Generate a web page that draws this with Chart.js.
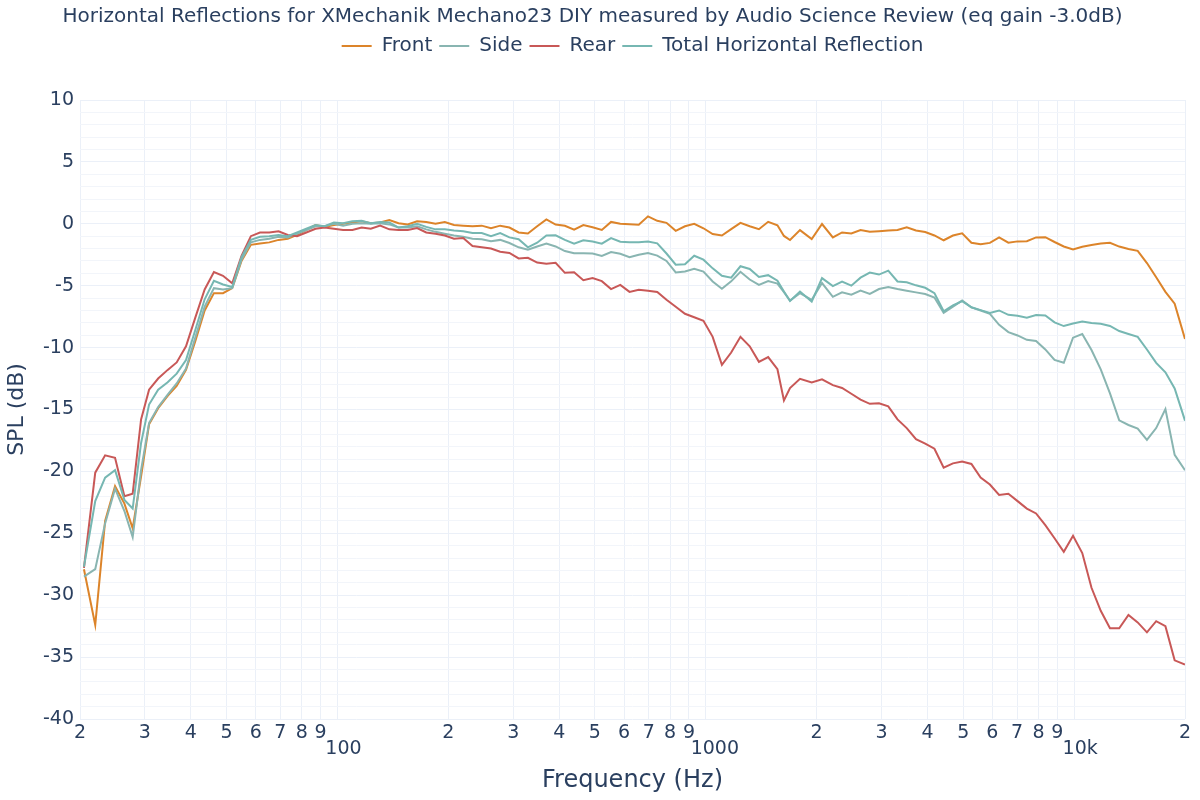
<!DOCTYPE html>
<html>
<head>
<meta charset="utf-8">
<title>Horizontal Reflections</title>
<script src="https://cdn.jsdelivr.net/npm/chart.js@4.4.1/dist/chart.umd.min.js"></script>
<style>
  html, body { margin: 0; padding: 0; background: #fff; }
  #grab { display: block; }
</style>
</head>
<body>
<canvas id="grab" width="1200" height="800"></canvas>
<script>
// frequency points (Hz)
const freqHz = [
  20.5, 22.0, 23.4, 24.9, 26.4, 27.8, 29.3,
  30.8, 32.6, 34.6, 36.6, 38.8, 41.1, 43.6, 46.2, 48.9, 51.8, 54.9, 58.2, 61.6, 65.3, 69.2, 73.3, 77.7, 82.3, 87.2, 92.3, 97.8,
  103.6, 109.8, 116.3, 123.2, 130.6, 138.3, 146.5, 155.2, 164.5, 174.2, 184.6, 195.6, 207.2, 219.5, 232.6, 246.4, 261.1, 276.6, 293.0, 310.4,
  328.9, 348.5, 369.2, 391.1, 414.4, 439.0, 465.1, 492.8, 522.1, 553.1, 586.0, 620.8, 657.7, 696.8, 738.3, 782.2, 828.7, 878.0, 930.2, 985.5,
  1044, 1106, 1172, 1242, 1316, 1394, 1477, 1565, 1630, 1693, 1802, 1939, 2068, 2213, 2344, 2484, 2631, 2788, 2953, 3129,
  3315, 3512, 3721, 3942, 4176, 4424, 4688, 4966, 5262, 5574, 5906, 6257, 6629, 7023, 7441, 7883, 8352, 8848, 9374, 9932,
  10522, 11148, 11811, 12513, 13257, 14045, 14880, 15765, 16703, 17696, 18748, 20000
];

// SPL (dB)
const front = [
  -27.9, -32.4, -24.0, -21.2, -22.6, -24.6, -20.4,
  -16.2, -14.9, -13.9, -13.1, -11.8, -9.5,
  -7.0, -5.6, -5.6, -5.2, -3.0, -1.7, -1.6, -1.5, -1.3, -1.2, -0.9, -0.5, -0.1, -0.25, -0.1,
  0.0, 0.1, 0.2, 0.05, 0.1, 0.3, 0.05, -0.05, 0.2, 0.15, 0.0, 0.15, -0.1, -0.15, -0.2, -0.15, -0.35, -0.15, -0.3, -0.7,
  -0.78, -0.2, 0.36, -0.06, -0.16, -0.48, -0.1, -0.28, -0.5, 0.15, 0.0, -0.04, -0.08, 0.6, 0.24, 0.08, -0.57, -0.2, 0.0, -0.36,
  -0.83, -0.95, -0.43, 0.08, -0.2, -0.44, 0.16, -0.12, -0.98, -1.31, -0.51, -1.24, -0.02, -1.1, -0.7, -0.78, -0.5, -0.65, -0.6, -0.55,
  -0.5, -0.28, -0.54, -0.67, -0.94, -1.33, -0.95, -0.77, -1.53, -1.66, -1.54, -1.1, -1.53, -1.42, -1.4, -1.1, -1.08, -1.47, -1.83, -2.08,
  -1.86, -1.71, -1.6, -1.54, -1.84, -2.04, -2.18, -3.17, -4.32, -5.5, -6.45, -9.3
];

const side = [
  -28.5, -27.9, -24.2, -21.4, -23.2, -25.3, -19.9,
  -16.1, -14.8, -13.8, -12.9, -11.7, -9.2,
  -6.7, -5.2, -5.3, -5.2, -2.9, -1.5, -1.3, -1.2, -1.05, -1.1, -0.8, -0.5, -0.2, -0.2, 0.0,
  -0.15, 0.0, 0.05, 0.0, 0.05, -0.05, -0.3, -0.3, -0.2, -0.45, -0.65, -0.8, -0.95, -1.05, -1.2, -1.25, -1.4, -1.3, -1.55, -1.9,
  -2.1, -1.83, -1.6, -1.83, -2.2, -2.37, -2.37, -2.4, -2.6, -2.28, -2.42, -2.7, -2.5, -2.36, -2.57, -3.0, -3.93, -3.85, -3.63, -3.86,
  -4.66, -5.25, -4.65, -3.88, -4.5, -4.93, -4.63, -4.83, -5.52, -6.2, -5.6, -6.14, -4.79, -5.9, -5.54, -5.72, -5.39, -5.66, -5.27, -5.1,
  -5.27, -5.4, -5.54, -5.67, -5.95, -7.2, -6.69, -6.2, -6.75, -7.0, -7.27, -8.16, -8.75, -9.02, -9.37, -9.47, -10.15, -11.0, -11.23, -9.2,
  -8.9, -10.2, -11.76, -13.7, -15.87, -16.25, -16.54, -17.45, -16.5, -14.96, -18.67, -19.9
];

const rear = [
  -27.8, -20.1, -18.7, -18.9, -22.0, -21.8, -15.8,
  -13.4, -12.5, -11.8, -11.2, -9.9, -7.6,
  -5.3, -3.9, -4.2, -4.8, -2.6, -1.0, -0.7, -0.7, -0.6, -0.9, -1.0, -0.7, -0.4, -0.3, -0.4,
  -0.5, -0.5, -0.3, -0.4, -0.15, -0.45, -0.5, -0.5, -0.35, -0.7, -0.8, -0.95, -1.2, -1.15, -1.8, -1.9, -2.0, -2.25, -2.35, -2.8,
  -2.75, -3.13, -3.23, -3.15, -3.96, -3.92, -4.56, -4.39, -4.63, -5.27, -4.93, -5.5, -5.33, -5.4, -5.5, -6.14, -6.7, -7.27, -7.55, -7.84,
  -9.13, -11.4, -10.4, -9.13, -9.9, -11.15, -10.77, -11.75, -14.27, -13.27, -12.52, -12.82, -12.56, -13.03, -13.26, -13.73, -14.2, -14.54, -14.5, -14.75,
  -15.8, -16.5, -17.4, -17.75, -18.17, -19.7, -19.35, -19.2, -19.4, -20.5, -21.06, -21.9, -21.8, -22.4, -23.0, -23.4, -24.34, -25.4, -26.5, -25.2,
  -26.6, -29.4, -31.26, -32.67, -32.67, -31.6, -32.2, -33.0, -32.1, -32.5, -35.26, -35.6
];

const totalHR = [
  -27.7, -22.4, -20.5, -19.9, -22.3, -23.0, -17.7,
  -14.6, -13.4, -12.8, -12.1, -11.0, -8.6,
  -6.1, -4.6, -4.9, -5.1, -2.7, -1.3, -1.05, -1.0, -0.9, -1.0, -0.7, -0.4, -0.1, -0.2, 0.1,
  0.05, 0.2, 0.25, 0.05, 0.15, 0.1, -0.3, -0.2, 0.0, -0.25, -0.45, -0.45, -0.55, -0.6, -0.75, -0.75, -1.0, -0.75, -1.1, -1.25,
  -1.9, -1.53, -0.95, -0.93, -1.3, -1.6, -1.33, -1.43, -1.6, -1.15, -1.45, -1.5, -1.5, -1.44, -1.58, -2.4, -3.3, -3.27, -2.58, -2.9,
  -3.6, -4.2, -4.35, -3.43, -3.65, -4.3, -4.15, -4.6, -5.47, -6.23, -5.47, -6.28, -4.39, -5.03, -4.67, -5.0, -4.35, -3.94, -4.1, -3.78,
  -4.66, -4.72, -4.97, -5.17, -5.6, -7.07, -6.58, -6.24, -6.74, -6.97, -7.2, -7.0, -7.35, -7.43, -7.58, -7.36, -7.41, -7.96, -8.26, -8.05,
  -7.89, -8.02, -8.08, -8.25, -8.66, -8.9, -9.13, -10.15, -11.23, -12.0, -13.3, -15.9
];

const seriesNames = ["Front", "Side", "Rear", "Total Horizontal Reflection"];
const seriesColors = ["#dc842a", "#89b5b1", "#c85857", "#76b7b2"];

// x axis ticks (plotly style: 2..9 then decade on a second row)
const xTickVals = [20, 30, 40, 50, 60, 70, 80, 90, 100, 200, 300, 400, 500, 600, 700, 800, 900,
  1000, 2000, 3000, 4000, 5000, 6000, 7000, 8000, 9000, 10000, 20000];
const xTickText = ["2", "3", "4", "5", "6", "7", "8", "9", ["", "  100"], "2", "3", "4", "5", "6", "7", "8", "9",
  ["", "   1000"], "2", "3", "4", "5", "6", "7", "8", "9", ["", "  10k"], "2"];

const inkColor = "#2a3f5f";
Chart.defaults.font.family = "'DejaVu Sans', Verdana, sans-serif";
Chart.defaults.color = inkColor;

const pts = (vals) => vals.map((v, i) => ({ x: freqHz[i], y: v }));

// extra room between the legend and the plot
const legendGap = {
  id: "legendGap",
  beforeLayout(chart) {
    const lg = chart.legend;
    if (lg && !lg._gapDone) {
      const fit = lg.fit;
      lg.fit = function () {
        fit.call(this);
        this.height += 34;
      };
      lg._gapDone = true;
    }
  }
};

const allSeries = [front, side, rear, totalHR];

const grph = document.querySelector("#grab");
const man = new Chart(grph, {
  type: "line",
  data: {
    datasets: allSeries.map((s, i) => ({
      label: seriesNames[i],
      data: pts(s),
      borderColor: seriesColors[i],
      backgroundColor: seriesColors[i],
      borderWidth: 2,
      pointRadius: 0,
      tension: 0,
      fill: false,
      order: allSeries.length - i
    }))
  },
  options: {
    responsive: false,
    animation: false,
    devicePixelRatio: 1,
    layout: { padding: { top: 0, right: 15, bottom: 0, left: 0 } },
    plugins: {
      title: {
        display: true,
        text: "Horizontal Reflections for XMechanik Mechano23 DIY measured by Audio Science Review (eq gain -3.0dB)",
        color: inkColor,
        font: { size: 20, weight: "normal" },
        padding: { top: 5, bottom: 0 }
      },
      legend: {
        display: true,
        fullSize: false,
        labels: {
          usePointStyle: true,
          pointStyle: "line",
          pointStyleWidth: 30,
          color: inkColor,
          font: { size: 20 },
          padding: 7,
          sort: (a, b) => a.datasetIndex - b.datasetIndex
        }
      },
      tooltip: { enabled: false }
    },
    scales: {
      x: {
        type: "logarithmic",
        min: 20,
        max: 20000,
        afterBuildTicks: (axis) => {
          axis.ticks = xTickVals.map((v) => ({ value: v }));
        },
        afterFit: (s) => { s.height = 81; },
        ticks: {
          autoSkip: false,
          maxRotation: 0,
          minRotation: 0,
          padding: 6,
          color: inkColor,
          font: { size: 19, lineHeight: "16px" },
          callback: (v, i) => xTickText[i]
        },
        grid: { color: "#ebf0f8", drawTicks: false },
        border: { display: false },
        title: {
          display: true,
          text: "Frequency (Hz)",
          color: inkColor,
          font: { size: 24 },
          padding: { top: 0, bottom: 5 }
        }
      },
      y: {
        min: -40,
        max: 10,
        afterFit: (s) => { s.width = 80; },
        ticks: {
          stepSize: 1,
          autoSkip: false,
          padding: 6,
          color: inkColor,
          font: { size: 19 },
          callback: (v) => (Math.round(v) % 5 === 0 ? String(Math.round(v)) : "")
        },
        grid: {
          drawTicks: false,
          color: (c) => (Math.round(c.tick.value) % 5 === 0 ? "#ebf0f8" : "#f2f5fa")
        },
        border: { display: false },
        title: {
          display: true,
          text: "SPL (dB)",
          color: inkColor,
          font: { size: 22 },
          padding: { top: 4, bottom: 0 }
        }
      }
    }
  },
  plugins: [legendGap]
});
</script>
</body>
</html>
